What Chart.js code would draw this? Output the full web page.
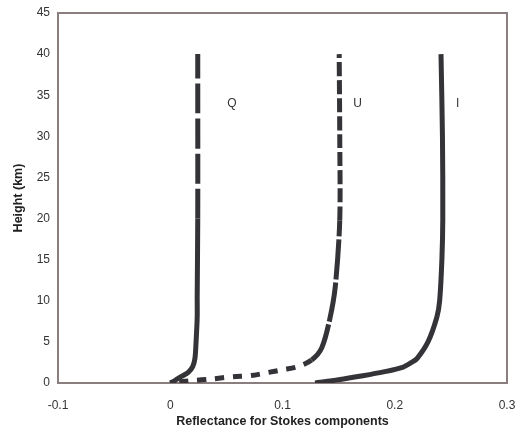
<!DOCTYPE html>
<html>
<head>
<meta charset="utf-8">
<script src="https://cdn.jsdelivr.net/npm/chart.js@4"></script>
<style>
  body { margin: 0; background: #fff; }
  #wrap { width: 522px; height: 439px; }
</style>
</head>
<body>
<div id="wrap"><canvas id="chart" width="522" height="439"></canvas></div>
<script>
// values: [reflectance, height km]
var qPts = [[0,0],[0.004,0.3],[0.01,0.8],[0.016,1.3],[0.02,2],[0.022,3],[0.023,5],[0.024,8],[0.024,10.5],[0.0245,20],[0.0245,40]];
var uPts = [[0.008,0.15],[0.019,0.28],[0.037,0.49],[0.056,0.77],[0.072,0.9],[0.086,1.25],[0.1,1.6],[0.114,2.0],[0.126,2.8],[0.135,4.3],[0.142,7.7],[0.147,11.7],[0.151,19.8],[0.151,30],[0.1505,40]];
var iPts = [[0.129,0],[0.15,0.4],[0.17,0.85],[0.19,1.35],[0.207,1.9],[0.215,2.5],[0.22,3],[0.2296,5],[0.2375,8],[0.24,10],[0.242,15],[0.2428,20],[0.2425,30],[0.2412,40]];
var seriesNames = ['Q', 'U', 'I'];
var labelPos = [[0.055, 34], [0.167, 34], [0.256, 34]];
var xTicks = [-0.1, 0, 0.1, 0.2, 0.3];

function toXY(a) { return a.map(function (p) { return { x: p[0], y: p[1] }; }); }

var lineColor = '#333338';
var frameColor = '#8a7e7e';

var labelsPlugin = {
  id: 'labels',
  afterDatasetsDraw: function (chart) {
    var c = chart.ctx, xs = chart.scales.x, ys = chart.scales.y, a = chart.chartArea;
    c.save();
    c.strokeStyle = frameColor;
    c.lineWidth = 2;
    c.beginPath();
    c.moveTo(a.left, a.top); c.lineTo(a.right, a.top); c.lineTo(a.right, a.bottom);
    c.stroke();
    c.fillStyle = '#333';
    c.font = '12px "Liberation Sans", Arial, sans-serif';
    c.textAlign = 'center';
    c.textBaseline = 'middle';
    seriesNames.forEach(function (n, i) {
      c.fillText(n, xs.getPixelForValue(labelPos[i][0]), ys.getPixelForValue(labelPos[i][1]));
    });
    c.restore();
  }
};

var tickFont = { family: '"Liberation Sans", Arial, sans-serif', size: 12 };
var titleFont = { family: '"Liberation Sans", Arial, sans-serif', size: 12.5, weight: 'bold' };

new Chart(document.getElementById('chart').getContext('2d'), {
  type: 'scatter',
  data: {
    datasets: [
      {
        label: 'Q', data: toXY(qPts), showLine: true, pointRadius: 0,
        borderColor: lineColor, borderWidth: 5, tension: 0.3, borderCapStyle: 'butt',
        segment: { borderDash: function (ctx) { return ctx.p0.parsed.y >= 20 ? [30, 5] : undefined; } }
      },
      {
        label: 'U', data: toXY(uPts), showLine: true, pointRadius: 0,
        borderColor: lineColor, borderWidth: 5, tension: 0.3, borderCapStyle: 'butt',
        segment: { borderDash: function (ctx) {
          var y = ctx.p0.parsed.y;
          if (y < 2.8) return [9, 9];
          if (y >= 19) return [14, 4];
          return [40, 3];
        } }
      },
      {
        label: 'I', data: toXY(iPts), showLine: true, pointRadius: 0,
        borderColor: lineColor, borderWidth: 5, tension: 0.3, borderCapStyle: 'butt'
      }
    ]
  },
  options: {
    responsive: false,
    animation: false,
    layout: { padding: { top: 13, right: 15, left: 0, bottom: 0 } },
    plugins: { legend: { display: false }, tooltip: { enabled: false } },
    scales: {
      x: {
        type: 'linear', min: -0.1, max: 0.3,
        afterBuildTicks: function (s) { s.ticks = xTicks.map(function (v) { return { value: v }; }); },
        afterFit: function (s) { s.height = 56; s.paddingRight = 5; },
        grid: { display: false, drawTicks: true, tickLength: 4, tickColor: frameColor },
        border: { color: frameColor, width: 2 },
        ticks: { color: '#333', font: tickFont, padding: 11, maxRotation: 0 },
        title: { display: true, text: 'Reflectance for Stokes components', color: '#222', font: titleFont, padding: { top: 4, bottom: 10 } }
      },
      y: {
        type: 'linear', min: 0, max: 45,
        ticks: { stepSize: 5, color: '#333', font: tickFont, padding: 4 },
        afterFit: function (s) { s.width = 58; },
        grid: { display: false, drawTicks: true, tickLength: 4, tickColor: frameColor },
        border: { color: frameColor, width: 2 },
        title: { display: true, text: 'Height (km)', color: '#222', font: titleFont, padding: { top: 11, bottom: 4 } }
      }
    }
  },
  plugins: [labelsPlugin]
});
</script>
</body>
</html>
